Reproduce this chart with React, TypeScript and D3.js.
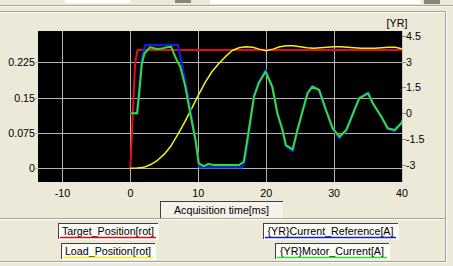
import React from "react";
import * as d3 from "d3";

// ---- data ----
const xTicks = [-10, 0, 10, 20, 30, 40];
const leftTicks = [0, 0.075, 0.15, 0.225];
const leftTickLabels = ["0", "0.075", "0.15", "0.225"];
const rightTicks = [-3, -1.5, 0, 1.5, 3, 4.5];
const rightTickLabels = ["-3", "-1.5", "0", "1.5", "3", "4.5"];

const targetT = [0, 0.7, 1.05, 40];
const targetV = [0, 0.223, 0.251, 0.251];

const loadT = [0, 1, 2, 3, 4, 5, 6, 7, 8, 9, 10, 11, 12, 13, 14, 15, 16, 17, 18, 19, 20, 21, 22, 23, 24, 25, 26, 27, 28, 29, 30, 31, 32, 33, 34, 35, 36, 37, 38, 39, 40];
const loadV = [0, 0.0005, 0.002, 0.008, 0.017, 0.03, 0.048, 0.072, 0.098, 0.126, 0.155, 0.182, 0.205, 0.222, 0.237, 0.25, 0.256, 0.258, 0.257, 0.253, 0.2495, 0.253, 0.258, 0.26, 0.26, 0.258, 0.256, 0.255, 0.256, 0.257, 0.258, 0.258, 0.257, 0.256, 0.255, 0.255, 0.255, 0.256, 0.257, 0.257, 0.254];

const refT = [0, 1.0, 1.35, 1.75, 2.2, 7.0, 7.5, 8.3, 9.0, 9.7, 10.2, 16.5, 16.9, 17.5, 18.2, 18.9, 19.9, 20.9, 21.65, 22.4, 22.9, 23.9, 24.6, 25.4, 26.1, 26.8, 27.8, 28.8, 29.8, 30.8, 31.8, 32.8, 33.7, 35.0, 35.7, 36.95, 37.9, 38.9, 39.9, 40.4];
const refV = [0, 0, 1.8, 3.3, 3.96, 3.96, 3.0, 1.4, -0.2, -1.9, -3.12, -3.12, -2.7, -0.97, 0.96, 1.8, 2.5, 1.54, 0, -0.97, -1.9, -2.2, -0.97, 0.19, 1.2, 1.6, 1.35, 0.19, -0.9, -1.45, -0.97, 0, 0.9, 1.2, 0.58, -0.19, -0.9, -1.05, -0.58, -0.19];

const motorT = [0, 1.0, 1.35, 1.7, 2.1, 2.9, 3.9, 4.6, 5.4, 6.0, 6.6, 7.35, 8.1, 8.8, 9.6, 10.06, 10.8, 11.5, 12.3, 14.3, 16.0, 16.7, 17.45, 18.2, 18.9, 19.9, 20.9, 21.65, 22.4, 22.9, 23.9, 24.6, 25.4, 26.1, 26.8, 27.8, 28.8, 29.8, 30.8, 31.8, 32.8, 33.7, 35.0, 35.7, 36.95, 37.9, 38.9, 39.9, 40.4];
const motorV = [0, 0, 1.34, 2.9, 3.48, 3.83, 3.73, 3.75, 3.83, 3.86, 3.28, 2.7, 1.54, 0.02, -1.55, -2.9, -3.06, -2.94, -3.0, -3.0, -3.0, -2.81, -0.97, 0.96, 1.74, 2.41, 1.54, 0, -0.97, -1.84, -2.09, -0.97, 0.19, 1.16, 1.54, 1.35, 0.19, -0.87, -1.36, -0.97, 0, 0.87, 1.16, 0.58, -0.19, -0.87, -0.97, -0.58, -0.19];

const legendLeft = ["Target_Position[rot]", "Load_Position[rot]"];
const legendRight = ["{YR}Current_Reference[A]", "{YR}Motor_Current[A]"];
const xTitle = "Acquisition time[ms]";

export default function App() {
  const W = 453, H = 266;
  const L = 38, R = 402, T = 31, B = 183;
  const x = d3.scaleLinear().domain([-13.6, 40]).range([L, R]);
  const yL = d3.scaleLinear().domain([-0.0312, 0.2915]).range([B, T]);
  const yR = d3.scaleLinear().domain([-4.04, 4.77]).range([B, T]);

  const mk = (ts: number[], vs: number[], ys: d3.ScaleLinear<number, number>) =>
    d3.line<number>().x((_, i) => x(ts[i])).y((v) => ys(v))(vs) || "";

  const bg = "#ECE9D8";
  const font = "'Liberation Sans', Arial, sans-serif";
  const fs = 10.7;
  const gridC = "#B4B4B4";

  const legendBox = (x0: number, y0: number, w: number, label: string, col: string) => {
    const cx = x0 + w / 2;
    return (
      <g key={label}>
        <rect x={x0} y={y0} width={w} height={16} fill="#FBFBF7" />
        <line x1={x0} y1={y0 + 0.5} x2={x0 + w} y2={y0 + 0.5} stroke="#404040" />
        <line x1={x0 + 0.5} y1={y0} x2={x0 + 0.5} y2={y0 + 16} stroke="#404040" />
        <line x1={x0} y1={y0 + 16.5} x2={x0 + w} y2={y0 + 16.5} stroke="#FFFFFF" />
        <line x1={x0 + w + 0.5} y1={y0} x2={x0 + w + 0.5} y2={y0 + 17} stroke="#FFFFFF" />
        <text x={cx} y={y0 + 12} textAnchor="middle" fontSize={fs} fontFamily={font} fill="#000">{label}</text>
        <line x1={x0 + 2} x2={x0 + w - 2} y1={y0 + 14.5} y2={y0 + 14.5} stroke={col} strokeWidth={1.5} />
      </g>
    );
  };

  return (
    <svg width={W} height={H} style={{ position: "absolute", left: 0, top: 0 }}>
      <rect x={0} y={0} width={W} height={H} fill={bg} />
      {/* top toolbar remnants */}
      <rect x={65} y={0} width={66} height={3} fill="#FFFFFF" />
      <rect x={175} y={0} width={16} height={3} fill="#8A8678" />
      <rect x={210} y={0} width={211} height={4} fill="#FFFFFF" />
      <rect x={424} y={0} width={16} height={4} fill="#8A8678" />
      <line x1={0} x2={W} y1={5.5} y2={5.5} stroke="#A5A391" />
      <line x1={0} x2={W} y1={6.5} y2={6.5} stroke="#FFFFFF" />
      {/* group box */}
      <line x1={0} x2={445} y1={11.5} y2={11.5} stroke="#A5A391" />
      <line x1={0} x2={445} y1={12.5} y2={12.5} stroke="#FFFFFF" />
      <line x1={445.5} x2={445.5} y1={11} y2={262} stroke="#A5A391" />
      <line x1={446.5} x2={446.5} y1={11} y2={263} stroke="#FFFFFF" />
      <line x1={0} x2={445} y1={218.5} y2={218.5} stroke="#A5A391" />
      <line x1={0} x2={445} y1={219.5} y2={219.5} stroke="#FFFFFF" />
      <line x1={0} x2={445} y1={261.5} y2={261.5} stroke="#A5A391" />
      <line x1={0} x2={446} y1={262.5} y2={262.5} stroke="#FFFFFF" />

      {/* plot */}
      <rect x={L} y={T} width={R - L} height={B - T} fill="#000" />
      <defs>
        <clipPath id="clip">
          <rect x={L} y={T} width={R - L} height={B - T} />
        </clipPath>
      </defs>
      {xTicks.map((t) => (
        <line key={"gx" + t} x1={Math.round(x(t)) + 0.5} x2={Math.round(x(t)) + 0.5} y1={T} y2={B} stroke={gridC} />
      ))}
      {leftTicks.map((t) => (
        <line key={"gy" + t} x1={L - 3} x2={R} y1={Math.round(yL(t)) + 0.5} y2={Math.round(yL(t)) + 0.5} stroke={gridC} />
      ))}
      <line x1={L} x2={R} y1={B - 0.5} y2={B - 0.5} stroke="#E8E8E8" />
      <line x1={R + 0.5} x2={R + 0.5} y1={T} y2={B} stroke="#C8C8C8" />
      {rightTicks.map((t) => (
        <line key={"rt" + t} x1={R} x2={R + 4} y1={Math.round(yR(t)) + 0.5} y2={Math.round(yR(t)) + 0.5} stroke="#888" />
      ))}

      <g clipPath="url(#clip)" fill="none" strokeLinejoin="round">
        <path d={mk(targetT, targetV, yL)} stroke="#E01010" strokeWidth={2} />
        <path d={mk(loadT, loadV, yL)} stroke="#F4F020" strokeWidth={1.5} />
        <path d={mk(refT, refV, yR)} stroke="#1020D0" strokeWidth={2.5} />
        <path d={mk(motorT, motorV, yR)} stroke="#30E030" strokeWidth={2} />
      </g>

      {/* labels */}
      <g fontFamily={font} fontSize={fs} fill="#000">
        {leftTicks.map((t, i) => (
          <text key={"lt" + t} x={35} y={yL(t) + 4} textAnchor="end">{leftTickLabels[i]}</text>
        ))}
        {rightTicks.map((t, i) => (
          <text key={"rl" + t} x={406} y={yR(t) + 4} textAnchor="start">{rightTickLabels[i]}</text>
        ))}
        {xTicks.map((t) => (
          <text key={"xl" + t} x={x(t)} y={197} textAnchor="middle">{t}</text>
        ))}
        <text x={397} y={27} textAnchor="middle">[YR]</text>
      </g>

      {/* x title box */}
      <rect x={160} y={201} width={123} height={17} fill="#F4F2EA" />
      <line x1={160} x2={283} y1={201.5} y2={201.5} stroke="#404040" />
      <line x1={160.5} x2={160.5} y1={201} y2={218} stroke="#404040" />
      <text x={221.5} y={213.5} textAnchor="middle" fontSize={fs} fontFamily={font}>{xTitle}</text>

      {legendBox(58, 223, 100, legendLeft[0], "#E01010")}
      {legendBox(61, 243, 94, legendLeft[1], "#F4F020")}
      {legendBox(263, 223, 135, legendRight[0], "#1020D0")}
      {legendBox(275, 243, 114, legendRight[1], "#30E030")}
    </svg>
  );
}
